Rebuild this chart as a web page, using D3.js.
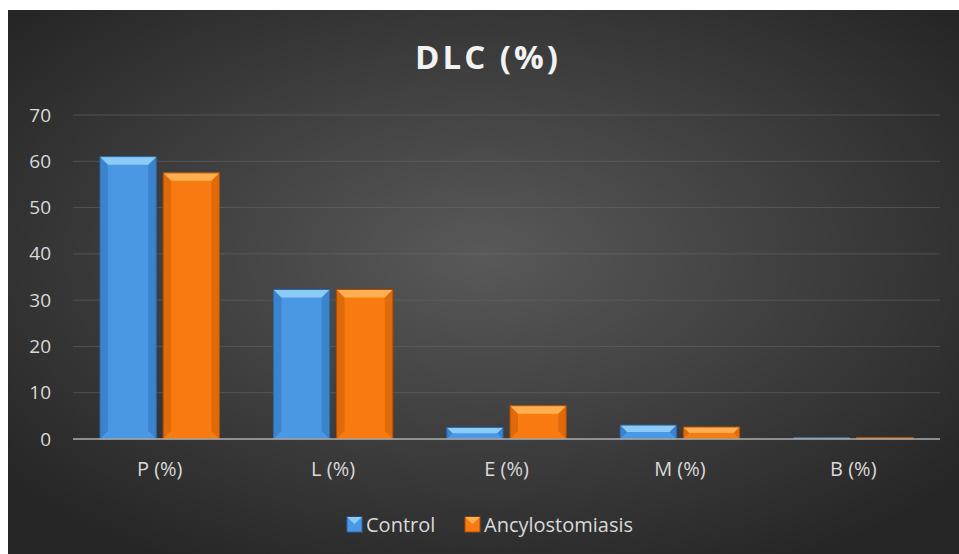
<!DOCTYPE html>
<head>
  <meta charset="utf-8">
  <script src="https://d3js.org/d3.v7.min.js"></script>
  <style>
    body { margin:0; background:#fff; }
    text { font-family: "Open Sans", sans-serif; }
  </style>
</head>
<body>
  <script>

  var categories = ["P (%)", "L (%)", "E (%)", "M (%)", "B (%)"];
  var seriesNames = ["Control", "Ancylostomiasis"];
  var control = [61.0, 32.3, 2.5, 3.0, 0.1];
  var ancylostomiasis = [57.5, 32.3, 7.2, 2.6, 0.3];
  var yTicks = [0, 10, 20, 30, 40, 50, 60, 70];

  var width = 959, height = 554;
  var margin = {top: 115, right: 19, bottom: 115, left: 73};
  var plotW = width - margin.left - margin.right;
  var plotH = height - margin.top - margin.bottom;

  var palette = {
    Control: {main: "#4a98e4", light: "#8ccbf7", dark: "#2a66a6", side: "#3b83cc"},
    Ancylostomiasis: {main: "#f87b12", light: "#ffae52", dark: "#a84c05", side: "#e06a0a"}
  };

  var svg = d3.select("body").append("svg")
    .attr("width", width)
    .attr("height", height);

  var defs = svg.append("defs");
  var bg = defs.append("radialGradient")
    .attr("id", "bg")
    .attr("cx", "50%").attr("cy", "45%").attr("r", "65%");
  bg.append("stop").attr("offset", "0%").attr("stop-color", "#595959");
  bg.append("stop").attr("offset", "100%").attr("stop-color", "#262626");

  // chart area (white strip above it, as in the cropped page)
  svg.append("rect")
    .attr("x", 8).attr("y", 10)
    .attr("width", width - 8).attr("height", height - 10)
    .attr("fill", "url(#bg)");

  svg.append("text")
    .attr("x", 488).attr("y", 69)
    .attr("text-anchor", "middle")
    .attr("fill", "#f2f2f2")
    .style("font-size", "33px")
    .style("font-weight", "bold")
    .style("letter-spacing", "3px")
    .text("DLC (%)");

  var g = svg.append("g")
    .attr("transform", "translate(" + margin.left + "," + margin.top + ")");

  var x0 = d3.scaleBand()
    .domain(categories)
    .range([0, plotW])
    .paddingInner(0)
    .paddingOuter(0);

  var x1 = d3.scaleBand()
    .domain(seriesNames)
    .range([27, x0.bandwidth() - 27])
    .paddingInner(0.11);

  var y = d3.scaleLinear()
    .domain([0, 70])
    .range([plotH, 0]);

  // gridlines
  g.append("g")
    .selectAll("line")
    .data(yTicks.slice(1))
    .enter().append("line")
    .attr("x1", 0).attr("x2", plotW)
    .attr("y1", function(d) { return y(d); })
    .attr("y2", function(d) { return y(d); })
    .attr("stroke", "#6a6a6a")
    .attr("stroke-opacity", 0.55)
    .attr("stroke-width", 1);

  // y axis labels
  var yAxis = d3.axisLeft(y).tickValues(yTicks).tickSize(0).tickPadding(22);
  var yg = g.append("g").call(yAxis);
  yg.select(".domain").remove();
  yg.selectAll("text")
    .attr("fill", "#d9d9d9")
    .style("font-size", "19px");

  // bars
  var rows = [];
  categories.forEach(function(c, i) {
    rows.push({cat: c, key: "Control", value: control[i]});
    rows.push({cat: c, key: "Ancylostomiasis", value: ancylostomiasis[i]});
  });

  var bars = g.append("g").selectAll("g")
    .data(rows)
    .enter().append("g")
    .attr("transform", function(d) {
      return "translate(" + (x0(d.cat) + x1(d.key)) + "," + y(d.value) + ")";
    });

  var bw = x1.bandwidth();
  bars.each(function(d) {
    var sel = d3.select(this);
    var h = y(0) - y(d.value);
    var c = palette[d.key];
    var b = Math.min(8, h / 2, bw / 2);
    sel.append("rect")
      .attr("width", bw).attr("height", Math.max(h, 1.5))
      .attr("y", Math.min(0, h - 1.5))
      .attr("fill", c.main);
    if (h < 1) return;
    // left and right bevels
    sel.append("path")
      .attr("d", "M0,0L" + b + "," + b + "L" + b + "," + (h - b) + "L0," + h + "Z")
      .attr("fill", c.side);
    sel.append("path")
      .attr("d", "M" + bw + ",0L" + (bw - b) + "," + b + "L" + (bw - b) + "," + (h - b) + "L" + bw + "," + h + "Z")
      .attr("fill", c.side);
    // top bevel
    sel.append("path")
      .attr("d", "M0,0L" + bw + ",0L" + (bw - b) + "," + b + "L" + b + "," + b + "Z")
      .attr("fill", c.light);
    sel.append("rect")
      .attr("width", bw).attr("height", h)
      .attr("fill", "none")
      .attr("stroke", c.dark)
      .attr("stroke-width", 1);
  });

  // zero axis line
  g.append("line")
    .attr("x1", 0).attr("x2", plotW)
    .attr("y1", y(0)).attr("y2", y(0))
    .attr("stroke", "#a6a6a6")
    .attr("stroke-opacity", 0.8)
    .attr("stroke-width", 2);

  // x axis labels
  var xAxis = d3.axisBottom(x0).tickSize(0).tickPadding(23);
  var xg = g.append("g").attr("transform", "translate(0," + plotH + ")").call(xAxis);
  xg.select(".domain").remove();
  xg.selectAll("text")
    .attr("fill", "#d9d9d9")
    .style("font-size", "20px");

  // legend
  var legendX = [347, 465];
  var legend = svg.append("g").selectAll("g")
    .data(seriesNames)
    .enter().append("g")
    .attr("transform", function(d, i) { return "translate(" + legendX[i] + ",517)"; });
  legend.append("rect")
    .attr("width", 15).attr("height", 15)
    .attr("fill", function(d) { return palette[d].main; })
    .attr("stroke", function(d) { return palette[d].dark; });
  legend.append("path")
    .attr("d", "M0,0L15,0L7.5,7Z")
    .attr("fill", function(d) { return palette[d].light; });
  legend.append("text")
    .attr("x", 19).attr("y", 15)
    .attr("fill", "#d9d9d9")
    .style("font-size", "20px")
    .text(function(d) { return d; });

  </script>
</body>
